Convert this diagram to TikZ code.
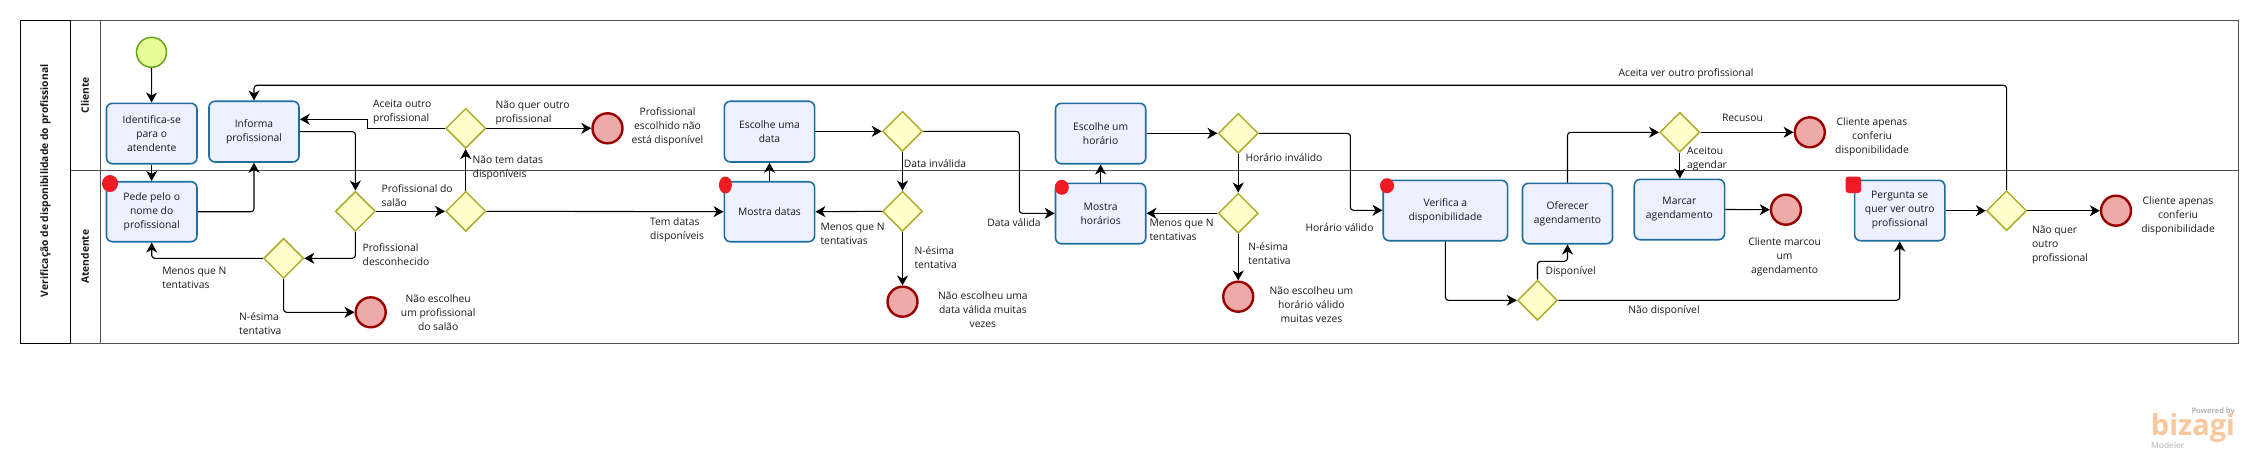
\documentclass[tikz,border=0pt]{standalone}
\usepackage{fontspec}
\setmainfont{Open Sans}
\usetikzlibrary{arrows.meta,shapes.geometric,calc}
\definecolor{taskfill}{HTML}{ECF0FF}
\definecolor{taskline}{HTML}{1F6E9E}
\definecolor{gatefill}{HTML}{FFFFCC}
\definecolor{gateline}{HTML}{ADAD2D}
\definecolor{startfill}{HTML}{E6FF97}
\definecolor{startline}{HTML}{62A716}
\definecolor{endfill}{HTML}{EEA9A9}
\definecolor{endline}{HTML}{990000}
\definecolor{poolline}{HTML}{505050}
\definecolor{blob}{HTML}{ED1C24}
\definecolor{logoorange}{HTML}{F8C89C}
\definecolor{logogray}{HTML}{B4B4B4}
\tikzset{
  x=1pt,y=-1pt,
  every node/.style={font=\fontsize{10.3}{14}\selectfont,inner sep=0pt,text=black!90},
  task/.style={draw=taskline,fill=taskfill,line width=1.6pt,rounded corners=6pt,align=center},
  gate/.style={draw=gateline,fill=gatefill,line width=1.5pt,diamond,aspect=1,minimum width=40pt,minimum height=40pt},
  startev/.style={draw=startline,fill=startfill,line width=1.5pt,circle,minimum size=30pt},
  endev/.style={draw=endline,fill=endfill,line width=2.4pt,circle,minimum size=30pt},
  flow/.style={draw=black,line width=1.1pt,rounded corners=3pt,-{Stealth[length=10pt,width=11pt,inset=3pt]}},
  lblL/.style={anchor=west,align=left},
  lblC/.style={align=center},
  pool/.style={draw=poolline,line width=0.9pt},
  redmark/.style={fill=blob,draw=none}
}
\newcommand{\tasknode}[6]{\node[task,minimum width=#4pt,minimum height=#5pt] (#1) at (#2,#3) {#6};}
\begin{document}
\begin{tikzpicture}
\useasboundingbox (0,0) rectangle (2257,460);
% pool
\draw[pool] (20.4,20.3) rectangle (2238,343.3);
\draw[pool] (70.5,20.3) -- (70.5,343.3);
\draw[pool] (100.4,20.3) -- (100.4,343.3);
\draw[pool] (70.5,170.3) -- (2238,170.3);
\draw[black,line width=1pt] (20.4,20.3) -- (20.4,343.3) -- (70.5,343.3) -- (70.5,20.3) -- cycle;
\node[rotate=90,font=\fontsize{10.3}{14}\selectfont\bfseries] (pooltitle) at (45.4,180.8) {Verificação de disponibilidade do profissional};
\node[rotate=90,font=\fontsize{10.3}{14}\selectfont\bfseries] (lanecli) at (85,95.2) {Cliente};
\node[rotate=90,font=\fontsize{10.3}{14}\selectfont\bfseries] (laneate) at (85,256.7) {Atendente};
% events
\node[startev] (start) at (151.5,52.3) {};
\node[endev] (end1) at (370.7,312.3) {};
\node[endev] (end2) at (607.5,128.3) {};
\node[endev] (end3) at (902.5,301.7) {};
\node[endev] (end4) at (1238.2,296.7) {};
\node[endev] (end5) at (1809.8,132.3) {};
\node[endev] (end6) at (1785.9,209.7) {};
\node[endev] (end7) at (2116,210.7) {};
% tasks
\tasknode{ident}{151.7}{133.5}{90.5}{60.4}{Identifica-se\\para o\\atendente}
\tasknode{informa}{254}{131.6}{90}{60.7}{Informa\\profissional}
\tasknode{pede}{151.7}{211.7}{90.5}{60}{Pede pelo o\\nome do\\profissional}
\tasknode{esdata}{769.5}{131.6}{90.3}{60.7}{Escolhe uma\\data}
\tasknode{mdatas}{769.5}{211.7}{90.3}{60}{Mostra datas}
\tasknode{eshora}{1100.6}{133.5}{90.3}{60.4}{Escolhe um\\horário}
\tasknode{mhora}{1100.6}{213.5}{90.3}{60.4}{Mostra\\horários}
\tasknode{verif}{1445.4}{210.5}{124.3}{60.4}{Verifica a\\disponibilidade}
\tasknode{ofer}{1567.5}{213.5}{90}{60.4}{Oferecer\\agendamento}
\tasknode{marcar}{1679.4}{209.5}{90.3}{60.4}{Marcar\\agendamento}
\tasknode{perg}{1899.7}{210.5}{90.2}{60.4}{Pergunta se\\quer ver outro\\profissional}
% gateways
\node[gate] (g1) at (355.4,211.3) {};
\node[gate] (g2) at (465.7,211.3) {};
\node[gate] (g3) at (465.7,128.3) {};
\node[gate] (g4) at (283.6,258.3) {};
\node[gate] (g5) at (902.5,131.3) {};
\node[gate] (g6) at (902.5,211.3) {};
\node[gate] (g7) at (1238.2,133.3) {};
\node[gate] (g8) at (1238.2,213.3) {};
\node[gate] (g9) at (1537.5,300.3) {};
\node[gate] (g10) at (1679.8,132.3) {};
\node[gate] (g11) at (2006.6,210.7) {};
% routing helpers
\coordinate (c1) at (367.9,119.3);
\coordinate (c2) at (1019.3,213.3);
\coordinate (c3) at (1350.4,210.3);
\coordinate (c4) at (1567.5,261.3);
\coordinate (c5) at (254,85.3);
% connectors
\draw[flow] (start) -- (ident);
\draw[flow] (ident) -- (pede);
\draw[flow] (pede.east) -| (informa.south);
\draw[flow] (informa.east) -| (g1.north);
\draw[flow] (g1.east) -- (g2.west);
\draw[flow] (g1.south) |- (g4.east);
\draw[flow] (g4.west) -| (pede.south);
\draw[flow] (g4.south) |- (end1.west);
\draw[flow] (g2.north) -- (g3.south);
\draw[flow,rounded corners=0pt] (g3.west) -- (c1 |- g3.west) -- (c1) -- (informa.east |- c1);
\draw[flow] (g3.east) -- (end2.west);
\draw[flow] (g2.east) -- (mdatas.west);
\draw[flow] (mdatas.north) -- (esdata.south);
\draw[flow] (esdata.east |- g5.west) -- (g5.west);
\draw[flow] (g5.south) -- (g6.north);
\draw[flow] (g6.west) -- (mdatas.east);
\draw[flow] (g6.south) -- (end3.north);
\draw[flow] (g5.east) -- (c2 |- g5.east) -- (c2) -- (mhora.west |- c2);
\draw[flow] (mhora.north) -- (eshora.south);
\draw[flow] (eshora.east |- g7.west) -- (g7.west);
\draw[flow] (g7.south) -- (g8.north);
\draw[flow] (g8.west) -- (mhora.east |- g8.west);
\draw[flow] (g8.south) -- (end4.north);
\draw[flow] (g7.east) -- (c3 |- g7.east) -- (c3) -- (verif.west |- c3);
\draw[flow] (verif.south) |- (g9.west);
\draw[flow] (g9.north) |- (c4) -- (ofer.south);
\draw[flow] (ofer.north) |- (g10.west);
\draw[flow] (g10.east) -- (end5.west);
\draw[flow] (g10.south) -- (g10.south |- marcar.north);
\draw[flow] (marcar.east) -- (end6.west);
\draw[flow] (g9.east) -| (perg.south);
\draw[flow] (perg.east |- g11.west) -- (g11.west);
\draw[flow] (g11.east) -- (end7.west);
\draw[flow] (g11.north) |- (c5) -- (informa.north);
% red marks
\fill[redmark] (110,183.5) ellipse [x radius=8,y radius=8.5];
\fill[redmark] (725.4,185) ellipse [x radius=6.5,y radius=8.5];
\fill[redmark] (1061.8,187.3) ellipse [x radius=7,y radius=7.5];
\fill[redmark] (1387,185.7) ellipse [x radius=7,y radius=7.5];
\fill[redmark,rounded corners=3pt] (1845.5,176.5) rectangle (1861,193);
% labels
\node[lblL] (la1) at (373,112.2) {Aceita outro\\profissional};
\node[lblL] (la2) at (495.4,113) {Não quer outro\\profissional};
\node[lblL] (la3) at (472.5,168.3) {Não tem datas\\disponíveis};
\node[lblL] (la4) at (381.4,195.3) {Profissional do\\salão};
\node[lblL] (la5) at (362.5,254.3) {Profissional\\desconhecido};
\node[lblL] (la6) at (162.1,278.2) {Menos que N\\tentativas};
\node[lblL] (la7) at (239,323.2) {N-ésima\\tentativa};
\node[lblC] (la8) at (438.2,312.3) {Não escolheu\\um profissional\\do salão};
\node[lblC] (la9) at (667.5,127) {Profissional\\escolhido não\\está disponível};
\node[lblL] (la10) at (650,230) {Tem datas\\disponíveis};
\node[lblL] (la11) at (903.6,164) {Data inválida};
\node[lblL] (la12) at (820.4,234.2) {Menos que N\\tentativas};
\node[lblL] (la13) at (914.3,258) {N-ésima\\tentativa};
\node[lblC] (la14) at (982.9,310) {Não escolheu uma\\data válida muitas\\vezes};
\node[lblL] (la15) at (987.1,223) {Data válida};
\node[lblL] (la16) at (1245.4,158) {Horário inválido};
\node[lblL] (la17) at (1149.3,230) {Menos que N\\tentativas};
\node[lblL] (la18) at (1248.2,253.2) {N-ésima\\tentativa};
\node[lblC] (la19) at (1311.4,304.3) {Não escolheu um\\horário válido\\muitas vezes};
\node[lblL] (la20) at (1305.4,228) {Horário válido};
\node[lblL] (la21) at (1545.4,271.3) {Disponível};
\node[lblC] (la22) at (1686,74) {Aceita ver outro profissional};
\node[lblC] (la23) at (1742.4,118) {Recusou};
\node[lblC] (la24) at (1872,137.3) {Cliente apenas\\conferiu\\disponibilidade};
\node[lblL] (la25) at (1687,159.3) {Aceitou\\agendar};
\node[lblC] (la26) at (1784.6,257.3) {Cliente marcou\\um\\agendamento};
\node[lblC] (la27) at (1664,311) {Não disponível};
\node[lblL] (la28) at (2031.8,245.3) {Não quer\\outro\\profissional};
\node[lblC] (la29) at (2178,216.3) {Cliente apenas\\conferiu\\disponibilidade};
% logo
\node[anchor=east,font=\fontsize{7.5}{9}\selectfont\bfseries,text=logogray] (lg1) at (2235,412) {Powered by};
\node[font=\fontsize{29}{30}\selectfont\bfseries,text=logoorange] (lg2) at (2193,428) {bizagi};
\node[lblL,font=\fontsize{8.5}{10}\selectfont,text=logogray] (lg3) at (2151,445) {Modeler};
\end{tikzpicture}
\end{document}
